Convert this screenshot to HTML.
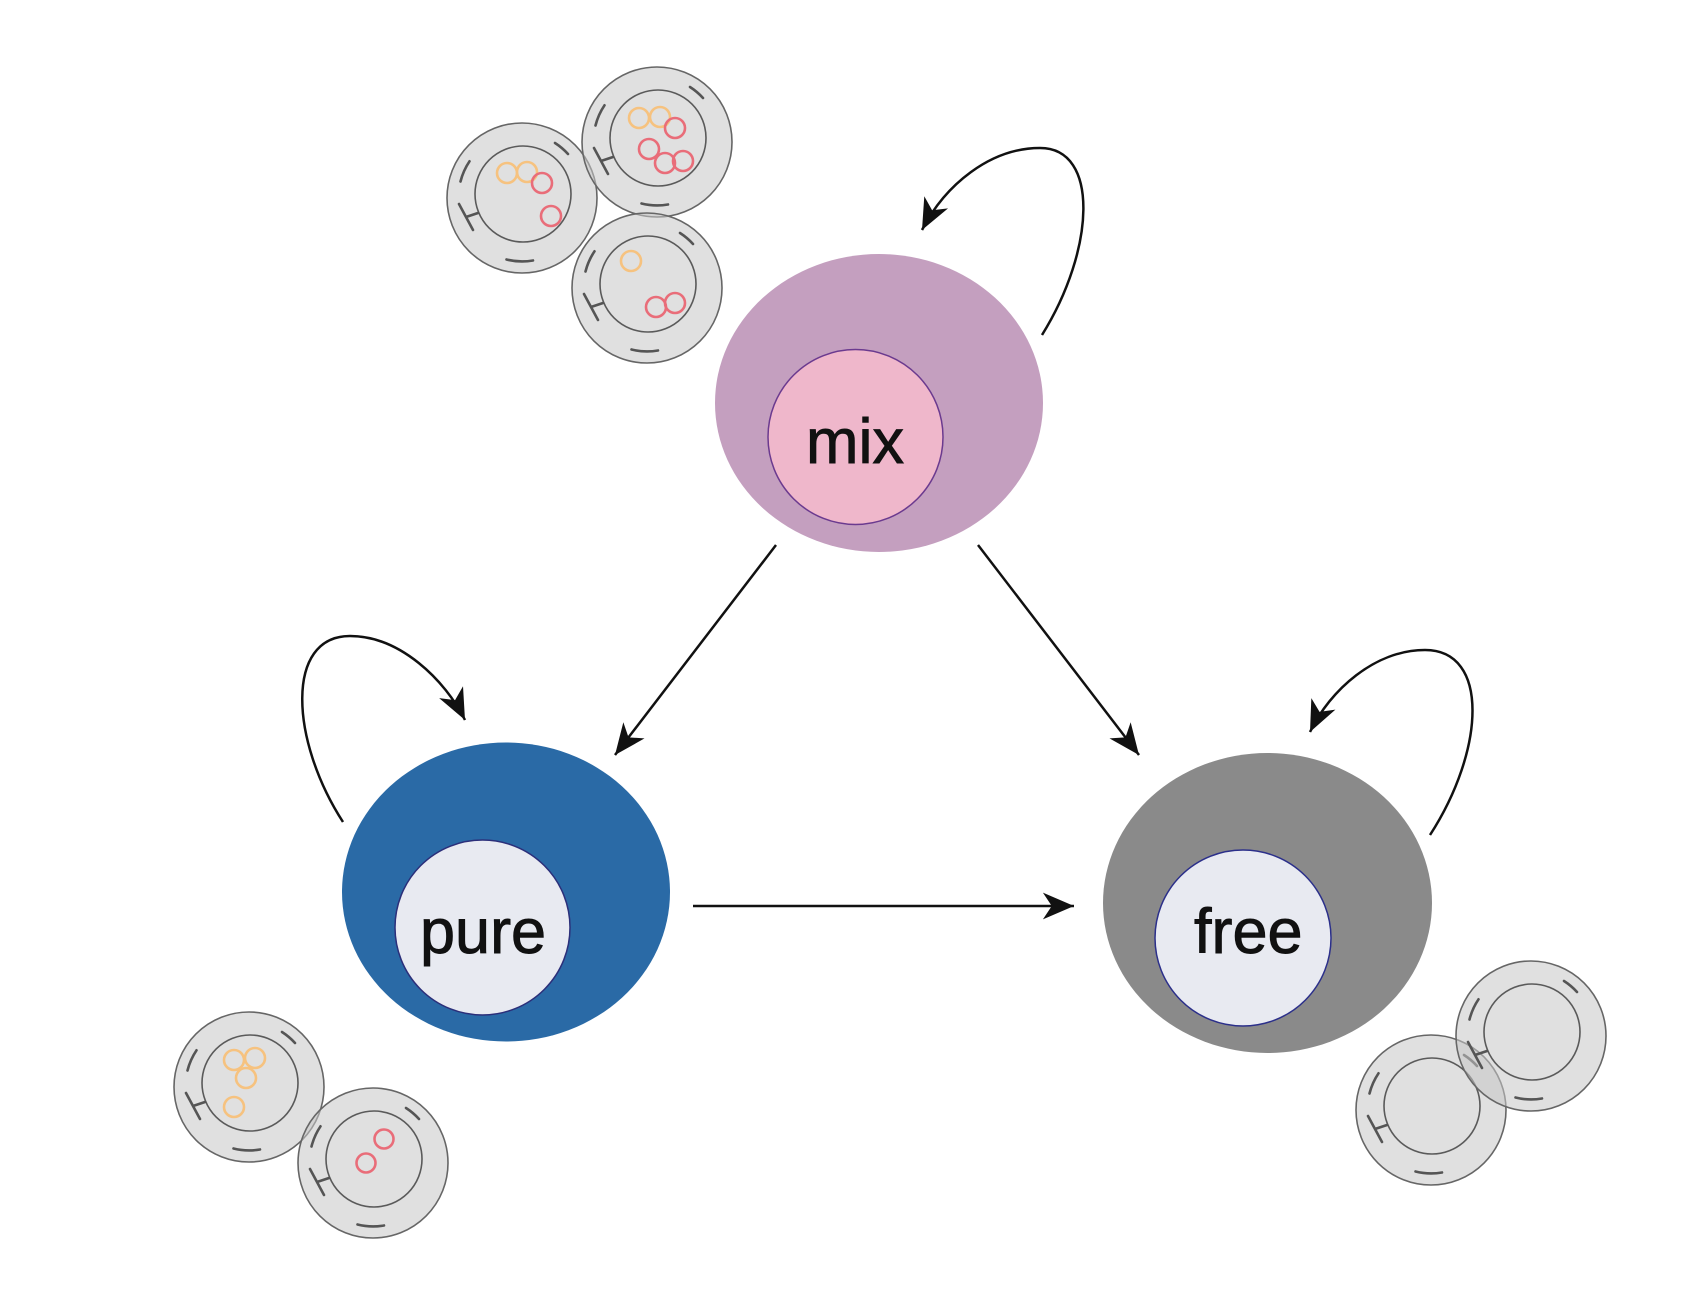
<!DOCTYPE html>
<html><head><meta charset="utf-8"><style>
html,body{margin:0;padding:0;background:#fff;}
svg{display:block;}
text{font-family:"Liberation Sans",Arial,sans-serif;}
</style></head><body>
<svg width="1704" height="1316" viewBox="0 0 1704 1316" xmlns="http://www.w3.org/2000/svg">
<defs>
<marker id="ah" markerUnits="userSpaceOnUse" markerWidth="40" markerHeight="40" viewBox="-32 -16 36 32" refX="0" refY="0" orient="auto">
<path d="M0,0 L-28,-12 L-20,0 L-28,12 Z" fill="#111"/>
</marker>
<g id="cell">
<circle r="75" fill="#c6c6c6" fill-opacity="0.55" stroke="#666" stroke-width="1.6"/>
<circle cx="1" cy="-4" r="48" fill="none" stroke="#5a5a5a" stroke-width="1.6"/>
<g fill="none" stroke="#555" stroke-width="2.6" stroke-linecap="round">
<path d="M33,-55 A64,64 0 0 1 46,-44"/>
<path d="M-61.5,-16.5 A64,64 0 0 1 -52.5,-36.7"/>
<path d="M11,62.5 A64,64 0 0 1 -15.5,61.5"/>
<path d="M-63,6 L-49,32 M-56,19 L-44,15"/>
</g>
</g>
</defs>

<!-- top cells -->
<use href="#cell" x="522" y="198"/>
<use href="#cell" x="657" y="142"/>
<use href="#cell" x="647" y="288"/>
<g fill="none" stroke-width="2.6">
<circle cx="507" cy="173" r="10" stroke="#f6c27f"/>
<circle cx="527" cy="172" r="10" stroke="#f6c27f"/>
<circle cx="542" cy="183" r="10" stroke="#e96d79"/>
<circle cx="551" cy="216" r="10" stroke="#e96d79"/>
<circle cx="639" cy="118" r="10" stroke="#f6c27f"/>
<circle cx="660" cy="117" r="10" stroke="#f6c27f"/>
<circle cx="675" cy="128" r="10" stroke="#e96d79"/>
<circle cx="649" cy="149" r="10" stroke="#e96d79"/>
<circle cx="665" cy="163" r="10" stroke="#e96d79"/>
<circle cx="683" cy="161" r="10" stroke="#e96d79"/>
<circle cx="631" cy="261" r="10" stroke="#f6c27f"/>
<circle cx="656" cy="307" r="10" stroke="#e96d79"/>
<circle cx="675" cy="303" r="10" stroke="#e96d79"/>
</g>

<!-- bottom-left cells -->
<use href="#cell" x="249" y="1087"/>
<use href="#cell" x="373" y="1163"/>
<g fill="none" stroke-width="2.6">
<circle cx="234" cy="1060" r="10" stroke="#f6c27f"/>
<circle cx="255" cy="1058" r="10" stroke="#f6c27f"/>
<circle cx="246" cy="1078" r="10" stroke="#f6c27f"/>
<circle cx="234" cy="1107" r="10" stroke="#f6c27f"/>
<circle cx="384" cy="1139" r="9.5" stroke="#e96d79"/>
<circle cx="366" cy="1163" r="9.5" stroke="#e96d79"/>
</g>

<!-- bottom-right cells -->
<use href="#cell" x="1431" y="1110"/>
<use href="#cell" x="1531" y="1036"/>

<!-- nodes -->
<ellipse cx="879" cy="403" rx="164" ry="149" fill="#c49fbf"/>
<circle cx="855.5" cy="437" r="87.5" fill="#efb7cb" stroke="#6b3a8f" stroke-width="1.5"/>
<text x="806" y="463" font-size="63" fill="#111" stroke="#111" stroke-width="0.9">mix</text>

<ellipse cx="506" cy="892" rx="164" ry="149.5" fill="#2a6aa6"/>
<circle cx="482.5" cy="927.5" r="87.5" fill="#e8eaf1" stroke="#2b2f7a" stroke-width="1.5"/>
<text x="420" y="953" font-size="63" fill="#111" stroke="#111" stroke-width="0.9">pure</text>

<ellipse cx="1267.5" cy="903" rx="164.5" ry="150" fill="#8a8a8a"/>
<circle cx="1243" cy="938" r="88" fill="#e8eaf1" stroke="#2b2f8a" stroke-width="1.5"/>
<text x="1194" y="953" font-size="63" fill="#111" stroke="#111" stroke-width="0.9">free</text>

<!-- connectors -->
<g fill="none" stroke="#111" stroke-width="2.5" marker-end="url(#ah)">
<path d="M776,545 L615,755"/>
<path d="M978,545 L1139,755"/>
<path d="M693,906 L1074,906"/>
<path d="M1042,335 C1095,250 1100,148 1040,148 C990,148 945,185 922,230"/>
<path d="M343,822 C290,740 285,636 350,636 C400,636 445,680 465,720"/>
<path d="M1430,835 C1485,750 1490,650 1425,650 C1375,650 1330,690 1310,732"/>
</g>
</svg>
</body></html>
